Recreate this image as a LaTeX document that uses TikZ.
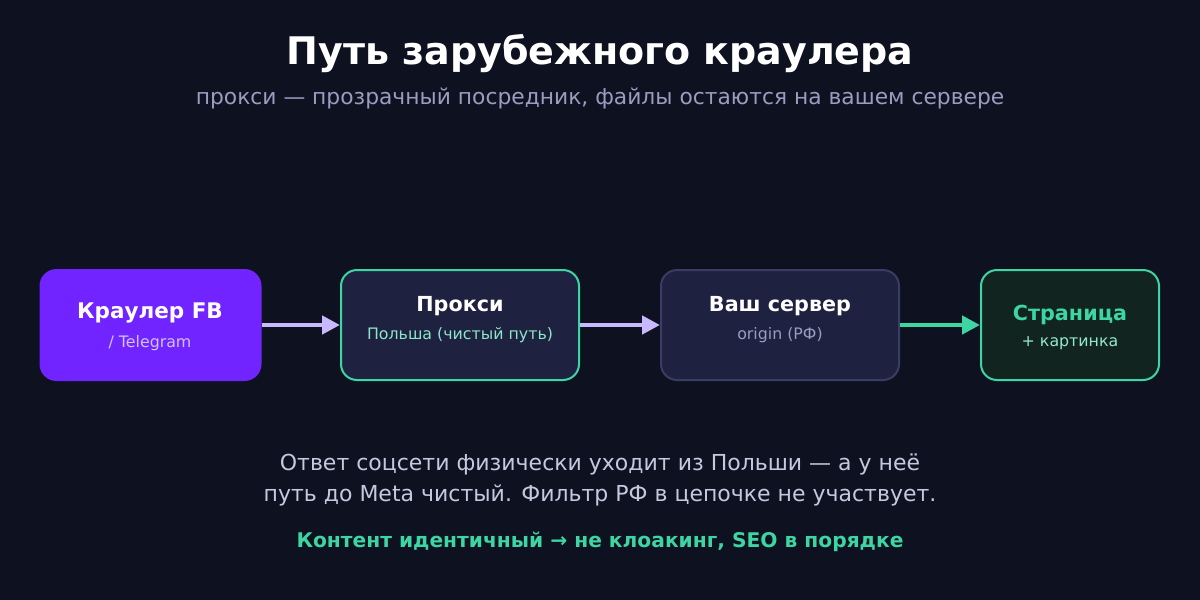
\documentclass[tikz,border=0pt]{standalone}
\usepackage{fontspec}
\setmainfont{DejaVu Sans}
\usepackage{tikz}
\usetikzlibrary{arrows.meta,positioning}

\definecolor{bgdark}{HTML}{0E1120}
\definecolor{crawlfill}{HTML}{7124FF}
\definecolor{boxfill}{HTML}{1E2140}
\definecolor{teal}{HTML}{3DD6A3}
\definecolor{srvborder}{HTML}{3A3D62}
\definecolor{pagefill}{HTML}{12241F}
\definecolor{lavender}{HTML}{C8B8FF}
\definecolor{mutedtext}{HTML}{9A9CC0}
\definecolor{bodytext}{HTML}{C6C8DE}

\begin{document}
\begin{tikzpicture}[x=1pt,y=-1pt,
    box/.style={rounded corners=16pt, minimum height=110pt, line width=2pt},
    boxtitle/.style={font=\bfseries\fontsize{20.7}{24}\selectfont, text=white},
    boxsub/.style={font=\fontsize{15.8}{18}\selectfont},
    flow/.style={line width=4.5pt, -{Triangle[length=18pt,width=18pt]}}]
    \fill[bgdark] (0,0) rectangle (1200,600);
    \useasboundingbox (0,0) rectangle (1200,600);

    \node[font=\bfseries\fontsize{38}{44}\selectfont, text=white] (title) at (600,53.5) {Путь зарубежного краулера};
    \node[font=\fontsize{21.8}{25}\selectfont, text=mutedtext] (subtitle) at (600,98) {прокси — прозрачный посредник, файлы остаются на вашем сервере};

    % boxes
    \node[box, fill=crawlfill, draw=crawlfill, minimum width=220pt] (crawler) at (150.5,325) {};
    \node[box, fill=boxfill, draw=teal, minimum width=238pt] (proxy) at (460,325) {};
    \node[box, fill=boxfill, draw=srvborder, minimum width=238pt] (server) at (780,325) {};
    \node[box, fill=pagefill, draw=teal, minimum width=178pt] (page) at (1070,325) {};

    \node[boxtitle, font=\bfseries\fontsize{21.5}{24}\selectfont] (crawlerT) at (150,312.5) {Краулер FB};
    \node[boxsub, text=lavender!85!white] (crawlerS) at (150,343) {/ Telegram};
    \node[boxtitle] (proxyT) at (460,306.5) {Прокси};
    \node[boxsub, text=teal!60!white] (proxyS) at (460,335) {Польша (чистый путь)};
    \node[boxtitle] (serverT) at (780,306.5) {Ваш сервер};
    \node[boxsub, text=mutedtext] (serverS) at (780,335) {origin (РФ)};
    \node[boxtitle, text=teal] (pageT) at (1070,314.5) {Страница};
    \node[boxsub, text=teal!55!white] (pageS) at (1070,343) {+ картинка};

    % arrows
    \draw[flow, lavender] (crawler.east) -- (proxy.west);
    \draw[flow, lavender] (proxy.east) -- (server.west);
    \draw[flow, teal] (server.east) -- (page.west);

    \node[font=\fontsize{22}{31.5}\selectfont, text=bodytext, align=center] (note) at (600,480) {Ответ соцсети физически уходит из Польши — а у неё\\путь до Meta чистый. Фильтр РФ в цепочке не участвует.};
    \node[font=\bfseries\fontsize{20.2}{24}\selectfont, text=teal] (verdict) at (600,542) {Контент идентичный → не клоакинг, SEO в порядке};
\end{tikzpicture}
\end{document}
